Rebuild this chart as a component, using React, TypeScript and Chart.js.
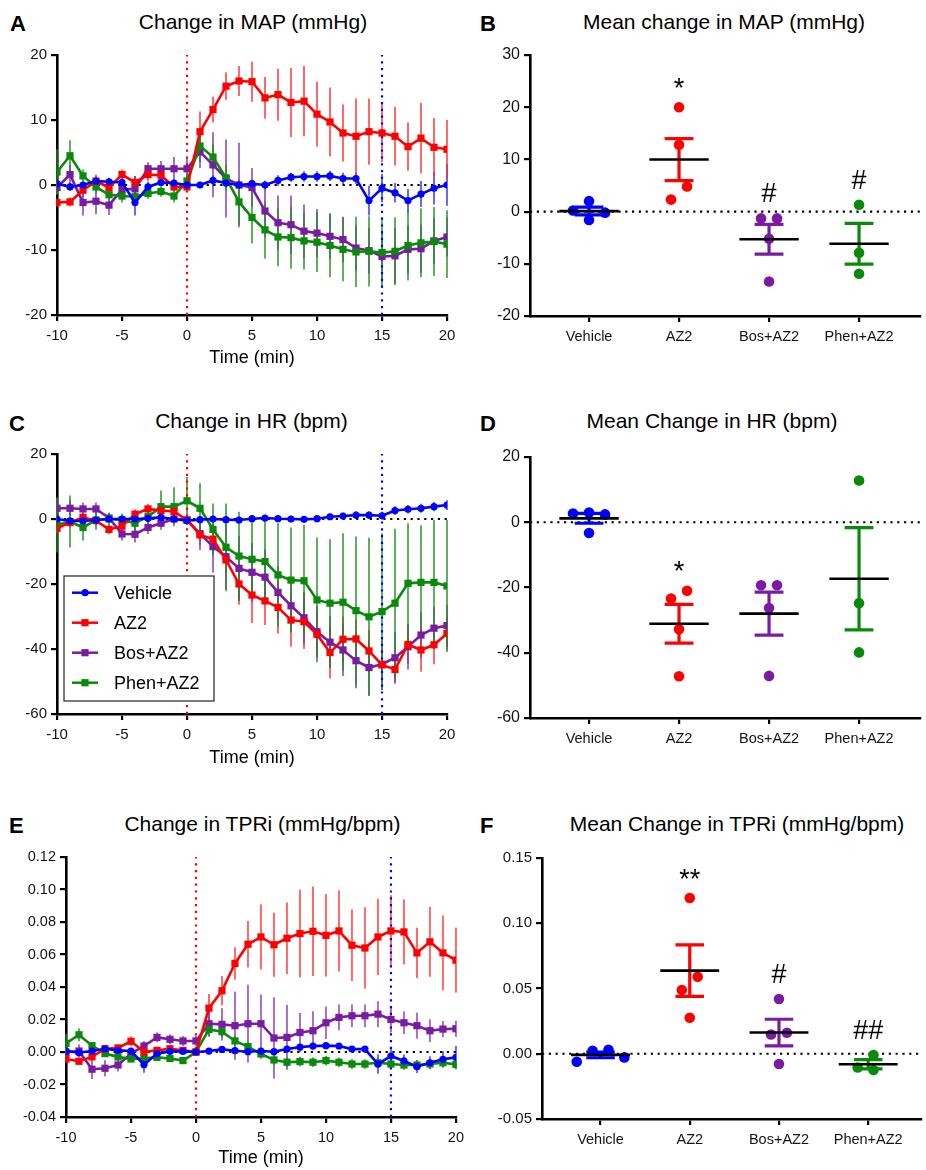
import { useEffect, useRef } from 'react';
import { Chart, registerables } from 'chart.js';

Chart.register(...registerables);

const FONT = '"Liberation Sans", Arial, Helvetica, sans-serif';
const INK = '#141414';

// ---- time course (minutes relative to infusion start) ----
const TIME = [-10, -9, -8, -7, -6, -5, -4, -3, -2, -1, 0, 1, 2, 3, 4, 5, 6, 7, 8, 9, 10, 11, 12, 13, 14, 15, 16, 17, 18, 19, 20];
const DRUG_START = 0;
const MEASURE_AT = 15;

const GROUPS = ['Vehicle', 'AZ2', 'Bos+AZ2', 'Phen+AZ2'];
const COLORS = ['#0000ff', '#ff0000', '#7a1ca3', '#0a8a0a'];
const BAR_COLORS = ['rgba(40,40,255,0.7)', 'rgba(255,40,40,0.7)', 'rgba(130,50,170,0.7)', 'rgba(30,140,30,0.7)'];
const MARKERS = ['circle', 'rect', 'rect', 'rect'];
const DRAW_ORDER = [0, 1, 3, 2];

// ---- A: change in MAP (mmHg), mean and SEM ----
const MAP_VEH = [0.2, -0.3, 0.0, 0.6, 0.5, 0.4, -2.7, -0.3, 0.4, 0.3, 0.0, 0.0, 0.7, 0.3, 0.0, 0.2, 0.0, 0.7, 1.2, 1.3, 1.3, 1.4, 1.0, 1.0, -2.4, -0.5, -1.2, -2.4, -1.4, -0.5, 0.0];
const MAP_VEH_SEM = [0.5, 0.6, 0.5, 0.8, 0.6, 0.6, 2.0, 0.8, 0.6, 0.6, 0.5, 0.5, 0.8, 0.6, 0.6, 0.6, 0.7, 0.8, 0.7, 0.8, 0.8, 0.8, 0.9, 0.9, 2.3, 2.2, 1.5, 1.8, 2.0, 2.5, 3.2];
const MAP_AZ2 = [-2.7, -2.6, -0.8, 0.6, -0.4, 1.6, 0.4, 1.6, 1.5, -0.3, -0.3, 8.2, 11.6, 15.2, 16.0, 15.9, 13.4, 13.9, 12.7, 12.9, 10.9, 9.7, 8.0, 7.5, 8.2, 8.0, 7.5, 5.9, 7.2, 5.8, 5.5];
const MAP_AZ2_SEM = [0.6, 0.7, 1.0, 1.0, 0.8, 0.8, 1.0, 1.0, 1.0, 0.7, 0.8, 3.1, 2.0, 2.1, 2.3, 3.1, 3.2, 4.0, 5.3, 5.4, 5.0, 5.3, 4.4, 5.8, 5.1, 4.5, 4.5, 3.7, 5.4, 4.5, 4.5];
const MAP_BOS = [-0.4, 1.6, -2.7, -2.5, -3.1, -0.7, -0.6, 2.5, 2.5, 2.5, 2.5, 5.1, 3.1, 1.0, 0.0, -0.4, -4.0, -5.8, -6.1, -7.1, -7.4, -7.9, -8.4, -9.7, -10.1, -11.0, -10.9, -9.9, -9.8, -8.6, -8.0];
const MAP_BOS_SEM = [1.0, 1.5, 2.0, 2.0, 1.5, 1.5, 2.0, 1.0, 1.2, 1.8, 1.8, 2.5, 5.0, 6.0, 6.5, 3.0, 4.0, 4.2, 4.5, 4.1, 3.7, 3.5, 3.5, 3.5, 3.5, 4.0, 4.3, 3.7, 3.7, 3.5, 3.0];
const MAP_PHEN = [2.0, 4.5, 1.4, -0.3, -1.5, -1.7, -1.8, -1.3, -1.0, -1.7, 0.6, 6.0, 4.3, 1.1, -2.6, -5.0, -6.9, -8.0, -8.1, -8.6, -8.8, -9.3, -9.9, -10.3, -10.2, -10.4, -10.2, -9.3, -8.9, -8.7, -9.1];
const MAP_PHEN_SEM = [3.5, 2.4, 1.0, 1.0, 1.0, 1.0, 1.0, 0.8, 0.8, 1.0, 1.2, 2.5, 2.0, 2.0, 3.5, 4.0, 4.4, 4.5, 4.8, 4.4, 4.6, 4.9, 4.9, 5.4, 5.4, 5.4, 5.2, 5.4, 5.3, 5.3, 5.2];

// ---- C: change in HR (bpm) ----
const HR_VEH = [0.0, -0.6, -0.6, -0.3, 0.0, 0.0, 0.0, 0.2, 0.5, 0.0, -0.5, -0.2, 0.0, -0.2, -0.3, 0.1, 0.3, 0.1, 0.0, -0.1, 0.1, 0.7, 0.9, 1.2, 1.2, 1.0, 2.6, 3.0, 3.3, 3.8, 4.3];
const HR_VEH_SEM = [1.2, 1.0, 1.0, 1.0, 1.0, 1.0, 1.0, 1.0, 1.0, 1.0, 1.0, 1.0, 1.0, 1.0, 1.0, 1.0, 1.0, 1.0, 1.0, 1.0, 1.0, 1.0, 1.0, 1.2, 1.2, 1.2, 1.3, 1.3, 1.4, 1.4, 1.5];
const HR_AZ2 = [-2.9, -1.1, 0.5, -0.5, -3.2, -2.2, 1.5, 3.1, 2.6, 2.3, -0.3, -4.9, -6.2, -12.6, -20.0, -23.4, -25.2, -27.2, -31.1, -31.6, -35.5, -41.1, -37.0, -36.9, -40.6, -44.9, -46.3, -38.6, -40.3, -38.7, -35.2];
const HR_AZ2_SEM = [1.5, 1.5, 1.5, 1.5, 1.5, 1.5, 1.5, 1.5, 1.5, 1.5, 1.0, 3.0, 4.0, 4.0, 6.4, 8.6, 7.4, 8.0, 8.2, 8.4, 6.7, 8.0, 7.0, 6.0, 6.5, 5.0, 4.0, 6.0, 6.7, 6.0, 5.0];
const HR_BOS = [3.3, 3.3, 3.1, 3.1, 0.3, -4.6, -4.7, -2.6, -1.3, 0.0, -0.3, -4.5, -8.5, -11.6, -15.2, -16.4, -17.9, -22.6, -26.7, -30.4, -34.7, -37.9, -40.3, -43.6, -45.7, -44.7, -42.7, -39.3, -35.7, -33.6, -32.8];
const HR_BOS_SEM = [3.0, 2.5, 2.0, 2.0, 1.5, 2.0, 2.5, 2.0, 2.0, 1.5, 1.5, 5.0, 8.0, 10.0, 10.0, 9.0, 8.5, 8.0, 8.0, 8.0, 8.0, 8.0, 8.0, 8.5, 8.7, 8.0, 8.0, 7.0, 7.0, 6.5, 6.4];
const HR_PHEN = [-1.8, -0.8, -2.6, -0.3, 0.0, -0.3, -1.3, 0.7, 3.8, 3.8, 5.6, 3.3, -3.2, -8.7, -11.4, -12.4, -13.1, -17.2, -18.8, -19.0, -24.9, -25.9, -25.6, -28.2, -30.1, -28.5, -25.9, -19.8, -19.5, -19.5, -20.6];
const HR_PHEN_SEM = [8.5, 8.0, 4.0, 3.0, 2.0, 2.0, 2.5, 3.0, 5.0, 6.0, 7.4, 7.7, 8.0, 13.5, 13.6, 12.1, 12.3, 16.0, 16.2, 17.2, 19.2, 19.7, 21.2, 22.8, 24.3, 24.1, 22.9, 18.5, 17.6, 19.2, 20.3];

// ---- E: change in TPRi (mmHg/bpm) ----
const TPR_VEH = [0.0006, -0.0004, 0.0006, 0.002, 0.001, 0.0006, -0.0078, -0.001, 0.0004, 0.0004, 0.0, 0.0006, 0.0016, 0.0008, 0.0002, 0.0006, 0.0002, 0.0018, 0.003, 0.0037, 0.0039, 0.0037, 0.0018, 0.0018, -0.0074, -0.0025, -0.0055, -0.009, -0.0066, -0.0045, -0.0033];
const TPR_VEH_SEM = [0.002, 0.002, 0.002, 0.002, 0.002, 0.002, 0.005, 0.002, 0.0015, 0.0015, 0.001, 0.001, 0.0015, 0.0015, 0.0015, 0.0015, 0.0015, 0.0015, 0.0015, 0.0015, 0.0015, 0.0015, 0.0015, 0.0015, 0.006, 0.005, 0.004, 0.004, 0.004, 0.005, 0.007];
const TPR_AZ2 = [-0.0043, -0.0057, -0.003, 0.002, 0.0025, 0.0066, 0.0, 0.001, 0.002, 0.001, 0.0, 0.027, 0.0377, 0.0545, 0.0663, 0.0708, 0.066, 0.07, 0.0729, 0.0743, 0.0718, 0.0745, 0.0657, 0.064, 0.0708, 0.0745, 0.0739, 0.061, 0.0678, 0.061, 0.0565];
const TPR_AZ2_SEM = [0.002, 0.002, 0.002, 0.002, 0.002, 0.003, 0.002, 0.002, 0.002, 0.002, 0.001, 0.0087, 0.009, 0.01, 0.0143, 0.02, 0.0197, 0.022, 0.027, 0.0275, 0.0254, 0.025, 0.022, 0.025, 0.0235, 0.022, 0.02, 0.0155, 0.0215, 0.023, 0.02];
const TPR_BOS = [-0.0002, 0.0006, -0.0106, -0.01, -0.008, -0.001, 0.0037, 0.009, 0.0078, 0.0068, 0.0068, 0.0174, 0.017, 0.0162, 0.0174, 0.0174, 0.0086, 0.009, 0.012, 0.0131, 0.018, 0.0213, 0.0223, 0.0223, 0.0233, 0.02, 0.018, 0.0162, 0.0131, 0.0141, 0.0143];
const TPR_BOS_SEM = [0.003, 0.004, 0.006, 0.005, 0.004, 0.003, 0.003, 0.003, 0.003, 0.003, 0.003, 0.008, 0.01, 0.021, 0.024, 0.018, 0.025, 0.02, 0.012, 0.012, 0.01, 0.008, 0.007, 0.007, 0.008, 0.008, 0.007, 0.008, 0.007, 0.005, 0.005];
const TPR_PHEN = [0.0053, 0.0106, 0.0039, -0.001, -0.003, -0.0043, -0.0039, -0.0033, -0.004, -0.0053, 0.0, 0.0139, 0.0125, 0.0068, 0.0033, -0.0012, -0.0049, -0.0063, -0.0059, -0.0063, -0.0053, -0.0063, -0.0074, -0.0074, -0.0066, -0.0074, -0.008, -0.008, -0.0074, -0.0066, -0.0076];
const TPR_PHEN_SEM = [0.006, 0.004, 0.002, 0.002, 0.002, 0.002, 0.002, 0.002, 0.002, 0.002, 0.002, 0.004, 0.003, 0.003, 0.003, 0.003, 0.003, 0.003, 0.003, 0.003, 0.003, 0.003, 0.003, 0.003, 0.003, 0.003, 0.003, 0.003, 0.003, 0.003, 0.003];

// ---- B, D, F: individual animals (mean change over the infusion) ----
const MAP_POINTS = [[2.0, 0.2, -0.2, -1.6], [20.0, 12.8, 4.8, 2.3], [-1.3, -1.3, -5.2, -13.4], [1.3, -7.9, -11.9]];
const HR_POINTS = [[3.0, 2.7, 2.4, -3.3], [-21.0, -23.4, -32.8, -47.2], [-19.3, -19.3, -26.3, -47.1], [12.8, -24.8, -39.9]];
const TPR_POINTS = [[0.0031, 0.0023, -0.0028, -0.0061], [0.1194, 0.059, 0.0488, 0.0276], [0.042, 0.0161, 0.0148, -0.0079], [-0.001, -0.0105, -0.0125]];

// significance marks (* vs Vehicle, # vs AZ2)
const MAP_SIG = ['', '*', '#', '#'];
const HR_SIG = ['', '*', '', ''];
const TPR_SIG = ['', '**', '#', '##'];

// ---------------------------------------------------------------
type Box = { left: number; top: number; width: number; height: number };
type Area = { l: number; t: number; r: number; b: number };

const Y_AXIS_W = 50;
const CAT_MIN = -0.656;
const CAT_PX = 90; // pixels between group centres

function frame(box: Box, area: Area) {
  return {
    padding: { left: area.l - box.left - Y_AXIS_W, top: area.t - box.top, right: box.left + box.width - area.r, bottom: 0 },
    xHeight: box.top + box.height - area.b,
  };
}

function fmt(v: number, decimals: number) {
  const n = Math.abs(v) < 1e-9 ? 0 : v;
  return decimals ? n.toFixed(decimals) : String(Math.round(n));
}

function axisBase(size: number, pad: number) {
  return {
    grid: { display: true, drawOnChartArea: false, drawTicks: true, tickLength: 6, tickWidth: 2.2, tickColor: '#000', color: '#000', lineWidth: 2.2 },
    border: { display: true, color: '#000', width: 2.6 },
    ticks: { color: INK, font: { family: FONT, size }, padding: pad },
  };
}

function dottedLine(points: { x: number; y: number }[], color: string, order: number) {
  return {
    type: 'line',
    data: points,
    showLine: true,
    borderColor: color,
    borderWidth: 2.2,
    borderDash: [2.2, 4.6],
    borderCapStyle: 'butt',
    pointRadius: 0,
    order,
  };
}

// vertical SEM bars under the time-course lines
const semBarsPlugin = {
  id: 'semBars',
  beforeDatasetsDraw(chart: any) {
    const { ctx, scales } = chart;
    ctx.save();
    chart.data.datasets.forEach((ds: any) => {
      if (!ds.sem) return;
      ctx.strokeStyle = ds.semColor;
      ctx.lineWidth = 2;
      ds.data.forEach((pt: any, i: number) => {
        const e = ds.sem[i];
        if (!e) return;
        const px = scales.x.getPixelForValue(pt.x);
        ctx.beginPath();
        ctx.moveTo(px, scales.y.getPixelForValue(pt.y + e));
        ctx.lineTo(px, scales.y.getPixelForValue(pt.y - e));
        ctx.stroke();
      });
    });
    ctx.restore();
  },
};

// boxed legend in the lower-left corner of the plot area
const cornerLegendPlugin = {
  id: 'cornerLegend',
  afterDraw(chart: any) {
    const opts = chart.options.plugins.cornerLegend;
    if (!opts || !opts.show) return;
    const { ctx, chartArea } = chart;
    const w = 150;
    const h = 125;
    const x0 = chartArea.left + 7;
    const y0 = chartArea.bottom - 13 - h;
    ctx.save();
    ctx.fillStyle = '#fff';
    ctx.fillRect(x0, y0, w, h);
    ctx.strokeStyle = '#333';
    ctx.lineWidth = 1.3;
    ctx.strokeRect(x0, y0, w, h);
    GROUPS.forEach((name, g) => {
      const y = y0 + 16.7 + g * 30;
      ctx.strokeStyle = COLORS[g];
      ctx.lineWidth = 2.5;
      ctx.beginPath();
      ctx.moveTo(x0 + 8, y);
      ctx.lineTo(x0 + 34, y);
      ctx.stroke();
      ctx.fillStyle = COLORS[g];
      if (MARKERS[g] === 'circle') {
        ctx.beginPath();
        ctx.arc(x0 + 21, y, 3.6, 0, Math.PI * 2);
        ctx.fill();
      } else {
        ctx.fillRect(x0 + 21 - 3.6, y - 3.6, 7.2, 7.2);
      }
      ctx.fillStyle = '#000';
      ctx.font = `18px ${FONT}`;
      ctx.textBaseline = 'middle';
      ctx.textAlign = 'left';
      ctx.fillText(name, x0 + 50, y + 1);
    });
    ctx.restore();
  },
};

// group mean line, SEM whiskers and significance marks for the dot plots
const groupSummaryPlugin = {
  id: 'groupSummary',
  afterDatasetsDraw(chart: any) {
    const { ctx, scales } = chart;
    const xs = scales.x;
    const ys = scales.y;
    ctx.save();
    chart.data.datasets.forEach((ds: any) => {
      if (!ds.values) return;
      const vals: number[] = ds.values;
      const n = vals.length;
      const mean = vals.reduce((a, b) => a + b, 0) / n;
      const sd = Math.sqrt(vals.reduce((a, b) => a + (b - mean) * (b - mean), 0) / (n - 1));
      const sem = sd / Math.sqrt(n);
      const g = ds.groupIndex;
      const cx = xs.getPixelForValue(g);
      const cap = xs.getPixelForValue(g + 0.16) - cx;
      const half = xs.getPixelForValue(g + 0.33) - cx;
      const yHi = ys.getPixelForValue(mean + sem);
      const yLo = ys.getPixelForValue(mean - sem);
      const yMean = ys.getPixelForValue(mean);
      ctx.strokeStyle = COLORS[g];
      ctx.lineWidth = 3.2;
      ctx.lineCap = 'butt';
      ctx.beginPath();
      ctx.moveTo(cx, yHi);
      ctx.lineTo(cx, yLo);
      ctx.moveTo(cx - cap, yHi);
      ctx.lineTo(cx + cap, yHi);
      ctx.moveTo(cx - cap, yLo);
      ctx.lineTo(cx + cap, yLo);
      ctx.stroke();
      ctx.strokeStyle = '#000';
      ctx.lineWidth = 2.6;
      ctx.beginPath();
      ctx.moveTo(cx - half, yMean);
      ctx.lineTo(cx + half, yMean);
      ctx.stroke();
      if (ds.sig) {
        const top = ys.getPixelForValue(Math.max(...vals));
        const centre = top - 26;
        const size = 27;
        const lift = ds.sig.startsWith('*') ? 0.58 : 0.36;
        ctx.fillStyle = '#000';
        ctx.font = `${size}px ${FONT}`;
        ctx.textAlign = 'center';
        ctx.textBaseline = 'alphabetic';
        ctx.fillText(ds.sig, cx, centre + lift * size);
      }
    });
    ctx.restore();
  },
};

// spread overlapping dots sideways (pixel offsets); each run of
// vertically touching dots is then centred on the group axis
function spread(vals: number[], pxPerUnit: number) {
  const D = 15;
  const cands = [0, -16, 16, -32, 32, -48, 48];
  const order = vals.map((_, i) => i).sort((a, b) => vals[b] - vals[a]);
  const placed: { i: number; y: number; off: number }[] = [];
  order.forEach((i) => {
    const y = vals[i] * pxPerUnit;
    const off = cands.find((c) => placed.every((p) => Math.hypot(c - p.off, y - p.y) >= D)) ?? 0;
    placed.push({ i, y, off });
  });
  let run: typeof placed = [];
  const flush = () => {
    if (run.length > 1) {
      const m = run.reduce((a, p) => a + p.off, 0) / run.length;
      run.forEach((p) => (p.off -= m));
    }
    run = [];
  };
  placed.forEach((p, k) => {
    if (k > 0 && Math.abs(placed[k - 1].y - p.y) >= D) flush();
    run.push(p);
  });
  flush();
  const res = new Array(vals.length).fill(0);
  placed.forEach((p) => (res[p.i] = p.off));
  return res;
}

type TimeSpec = {
  box: Box; area: Area; yMin: number; yMax: number; yStep: number; decimals: number; tickSize: number;
  values: number[][]; sems: number[][]; legend?: boolean;
};

function timeConfig(s: TimeSpec) {
  const { padding, xHeight } = frame(s.box, s.area);
  const datasets: any[] = s.values.map((vals, g) => ({
    type: 'line',
    label: GROUPS[g],
    data: TIME.map((t, i) => ({ x: t, y: vals[i] })),
    sem: s.sems[g],
    semColor: BAR_COLORS[g],
    showLine: true,
    borderColor: COLORS[g],
    backgroundColor: COLORS[g],
    borderWidth: 2.6,
    pointStyle: MARKERS[g],
    pointRadius: MARKERS[g] === 'circle' ? 3.6 : 5.1,
    pointBorderWidth: 0,
    tension: 0,
    order: DRAW_ORDER[g],
  }));
  const t0 = TIME[0];
  const t1 = TIME[TIME.length - 1];
  datasets.push(dottedLine([{ x: t0, y: 0 }, { x: t1, y: 0 }], '#000', 6));
  datasets.push(dottedLine([{ x: DRUG_START, y: s.yMin }, { x: DRUG_START, y: s.yMax }], '#ff0000', 7));
  datasets.push(dottedLine([{ x: MEASURE_AT, y: s.yMin }, { x: MEASURE_AT, y: s.yMax }], '#0000ff', 7));

  const xAxis: any = axisBase(s.tickSize, 6);
  const yAxis: any = axisBase(s.tickSize, 4);
  return {
    type: 'scatter',
    data: { datasets },
    options: {
      responsive: false,
      devicePixelRatio: 1,
      animation: false,
      events: [],
      layout: { padding },
      plugins: { legend: { display: false }, tooltip: { enabled: false }, cornerLegend: { show: !!s.legend } },
      scales: {
        x: {
          type: 'linear', min: t0, max: t1,
          ...xAxis,
          ticks: { ...xAxis.ticks, stepSize: 5, callback: (v: number) => String(v) },
          title: { display: true, text: 'Time (min)', color: '#000', font: { family: FONT, size: 18 }, padding: { top: 0, bottom: 1 } },
          afterFit: (sc: any) => { sc.height = xHeight; },
        },
        y: {
          type: 'linear', min: s.yMin, max: s.yMax,
          ...yAxis,
          ticks: { ...yAxis.ticks, stepSize: s.yStep, callback: (v: number) => fmt(v, s.decimals) },
          afterFit: (sc: any) => { sc.width = Y_AXIS_W; },
        },
      },
    },
    plugins: [semBarsPlugin, cornerLegendPlugin],
  };
}

type DotSpec = {
  box: Box; area: Area; yMin: number; yMax: number; yStep: number; decimals: number; tickSize: number;
  points: number[][]; sig: string[];
};

function dotConfig(s: DotSpec) {
  const { padding, xHeight } = frame(s.box, s.area);
  const plotW = s.area.r - s.area.l;
  const catMax = CAT_MIN + plotW / CAT_PX;
  const pxPerUnit = (s.area.b - s.area.t) / (s.yMax - s.yMin);
  const datasets: any[] = s.points.map((vals, g) => {
    const offs = spread(vals, pxPerUnit);
    return {
      type: 'scatter',
      label: GROUPS[g],
      data: vals.map((v, k) => ({ x: g + offs[k] / CAT_PX, y: v })),
      values: vals,
      groupIndex: g,
      sig: s.sig[g],
      backgroundColor: COLORS[g],
      pointRadius: 5.3,
      pointBorderWidth: 0,
      order: 1,
    };
  });
  datasets.push(dottedLine([{ x: CAT_MIN, y: 0 }, { x: catMax, y: 0 }], '#000', 6));
  const xAxis: any = axisBase(14.5, 6);
  const yAxis: any = axisBase(s.tickSize, 4);
  return {
    type: 'scatter',
    data: { datasets },
    options: {
      responsive: false,
      devicePixelRatio: 1,
      animation: false,
      events: [],
      layout: { padding },
      plugins: { legend: { display: false }, tooltip: { enabled: false } },
      scales: {
        x: {
          type: 'linear', min: CAT_MIN, max: catMax,
          ...xAxis,
          ticks: { ...xAxis.ticks, autoSkip: false, maxRotation: 0, minRotation: 0, callback: (v: number) => GROUPS[Math.round(v)] ?? '' },
          afterBuildTicks: (sc: any) => { sc.ticks = GROUPS.map((_, i) => ({ value: i })); },
          afterFit: (sc: any) => { sc.height = xHeight; },
        },
        y: {
          type: 'linear', min: s.yMin, max: s.yMax,
          ...yAxis,
          ticks: { ...yAxis.ticks, stepSize: s.yStep, callback: (v: number) => fmt(v, s.decimals) },
          afterFit: (sc: any) => { sc.width = Y_AXIS_W; },
        },
      },
    },
    plugins: [groupSummaryPlugin],
  };
}

function ChartCanvas({ box, config }: { box: Box; config: () => any }) {
  const ref = useRef<HTMLCanvasElement>(null);
  useEffect(() => {
    const chart = new Chart(ref.current as HTMLCanvasElement, config());
    return () => chart.destroy();
  }, []);
  return (
    <canvas
      ref={ref}
      width={box.width}
      height={box.height}
      style={{ position: 'absolute', left: box.left, top: box.top, width: box.width, height: box.height }}
    />
  );
}

function Heading({ text, cx, cy }: { text: string; cx: number; cy: number }) {
  return (
    <div style={{ position: 'absolute', left: cx - 250, top: cy - 11.8, width: 500, lineHeight: '24px', fontSize: 21, fontFamily: FONT, color: '#000', textAlign: 'center', whiteSpace: 'nowrap' }}>
      {text}
    </div>
  );
}

function PanelLetter({ text, x, cy }: { text: string; x: number; cy: number }) {
  return (
    <div style={{ position: 'absolute', left: x, top: cy - 11.7, lineHeight: '24px', fontSize: 22, fontWeight: 'bold', fontFamily: FONT, color: '#000' }}>
      {text}
    </div>
  );
}

const BOX_A: Box = { left: 0, top: 40, width: 463, height: 330 };
const BOX_B: Box = { left: 470, top: 40, width: 456, height: 330 };
const BOX_C: Box = { left: 0, top: 440, width: 463, height: 330 };
const BOX_D: Box = { left: 470, top: 440, width: 456, height: 330 };
const BOX_E: Box = { left: 0, top: 840, width: 470, height: 330 };
const BOX_F: Box = { left: 470, top: 840, width: 456, height: 330 };

export default function App() {
  return (
    <div style={{ position: 'absolute', left: 0, top: 0, width: 926, height: 1170, background: '#fff', overflow: 'hidden' }}>
      <ChartCanvas
        box={BOX_A}
        config={() => timeConfig({
          box: BOX_A, area: { l: 57, t: 55, r: 447, b: 315 }, yMin: -20, yMax: 20, yStep: 10, decimals: 0, tickSize: 15,
          values: [MAP_VEH, MAP_AZ2, MAP_BOS, MAP_PHEN], sems: [MAP_VEH_SEM, MAP_AZ2_SEM, MAP_BOS_SEM, MAP_PHEN_SEM],
        })}
      />
      <ChartCanvas
        box={BOX_B}
        config={() => dotConfig({
          box: BOX_B, area: { l: 530, t: 55, r: 920, b: 316 }, yMin: -20, yMax: 30, yStep: 10, decimals: 0, tickSize: 16,
          points: MAP_POINTS, sig: MAP_SIG,
        })}
      />
      <ChartCanvas
        box={BOX_C}
        config={() => timeConfig({
          box: BOX_C, area: { l: 57, t: 454, r: 447, b: 714 }, yMin: -60, yMax: 20, yStep: 20, decimals: 0, tickSize: 15,
          values: [HR_VEH, HR_AZ2, HR_BOS, HR_PHEN], sems: [HR_VEH_SEM, HR_AZ2_SEM, HR_BOS_SEM, HR_PHEN_SEM], legend: true,
        })}
      />
      <ChartCanvas
        box={BOX_D}
        config={() => dotConfig({
          box: BOX_D, area: { l: 530, t: 457, r: 920, b: 718 }, yMin: -60, yMax: 20, yStep: 20, decimals: 0, tickSize: 16,
          points: HR_POINTS, sig: HR_SIG,
        })}
      />
      <ChartCanvas
        box={BOX_E}
        config={() => timeConfig({
          box: BOX_E, area: { l: 66, t: 857, r: 456, b: 1117 }, yMin: -0.04, yMax: 0.12, yStep: 0.02, decimals: 2, tickSize: 14.5,
          values: [TPR_VEH, TPR_AZ2, TPR_BOS, TPR_PHEN], sems: [TPR_VEH_SEM, TPR_AZ2_SEM, TPR_BOS_SEM, TPR_PHEN_SEM],
        })}
      />
      <ChartCanvas
        box={BOX_F}
        config={() => dotConfig({
          box: BOX_F, area: { l: 542, t: 858, r: 924, b: 1119 }, yMin: -0.05, yMax: 0.15, yStep: 0.05, decimals: 2, tickSize: 15,
          points: TPR_POINTS, sig: TPR_SIG,
        })}
      />

      <PanelLetter text="A" x={10} cy={24} />
      <PanelLetter text="B" x={480} cy={24} />
      <PanelLetter text="C" x={9} cy={424} />
      <PanelLetter text="D" x={480} cy={424} />
      <PanelLetter text="E" x={9} cy={826} />
      <PanelLetter text="F" x={480} cy={826} />

      <Heading text="Change in MAP (mmHg)" cx={253} cy={21.5} />
      <Heading text="Mean change in MAP (mmHg)" cx={724} cy={21.5} />
      <Heading text="Change in HR (bpm)" cx={251.5} cy={421} />
      <Heading text="Mean Change in HR (bpm)" cx={712} cy={421} />
      <Heading text="Change in TPRi (mmHg/bpm)" cx={262.5} cy={824} />
      <Heading text="Mean Change in TPRi (mmHg/bpm)" cx={737} cy={824} />
    </div>
  );
}
